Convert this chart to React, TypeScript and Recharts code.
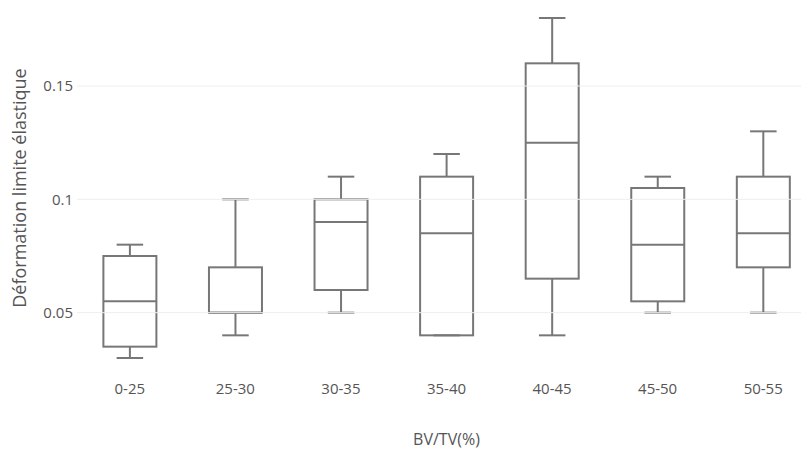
import { ComposedChart, Bar, XAxis, YAxis, ReferenceLine, Label } from 'recharts'

const categories = ['0-25', '25-30', '30-35', '35-40', '40-45', '45-50', '50-55']
const minVals = [0.03, 0.04, 0.05, 0.04, 0.04, 0.05, 0.05]
const q1Vals = [0.035, 0.05, 0.06, 0.04, 0.065, 0.055, 0.07]
const medianVals = [0.055, 0.05, 0.09, 0.085, 0.125, 0.08, 0.085]
const q3Vals = [0.075, 0.07, 0.1, 0.11, 0.16, 0.105, 0.11]
const maxVals = [0.08, 0.1, 0.11, 0.12, 0.18, 0.11, 0.13]
const yTicks = [0.05, 0.1, 0.15]

const data = categories.map((name, i) => ({
  name,
  range: [minVals[i], maxVals[i]],
  min: minVals[i],
  q1: q1Vals[i],
  median: medianVals[i],
  q3: q3Vals[i],
  max: maxVals[i],
}))

const LINE = '#777777'
const TEXT = '#555555'

// bar spans min..max, the other stats are placed on the same linear scale
const BoxShape = (props: any) => {
  const { x, y, width, height, payload } = props
  const { min, q1, median, q3, max } = payload
  const toY = (v: number) => y + (height * (max - v)) / (max - min)
  const cx = x + width / 2
  const capHalf = width / 4
  return (
    <g stroke={LINE} strokeWidth={2} fill="none">
      <line x1={cx} x2={cx} y1={toY(max)} y2={toY(q3)} />
      <line x1={cx - capHalf} x2={cx + capHalf} y1={toY(max)} y2={toY(max)} />
      <line x1={cx} x2={cx} y1={toY(q1)} y2={toY(min)} />
      <line x1={cx - capHalf} x2={cx + capHalf} y1={toY(min)} y2={toY(min)} />
      <rect x={x} y={toY(q3)} width={width} height={toY(q1) - toY(q3)} />
      <line x1={x} x2={x + width} y1={toY(median)} y2={toY(median)} />
    </g>
  )
}

export default function App() {
  return (
    <div
      style={{
        position: 'absolute',
        left: 0,
        top: 0,
        width: 801,
        height: 451,
        overflow: 'hidden',
        background: '#fff',
        fontFamily: '"Open Sans", sans-serif',
      }}
    >
      <ComposedChart
        width={816}
        height={451}
        data={data}
        margin={{ top: 1, right: 0, left: 0, bottom: 0 }}
        barCategoryGap="25%"
      >
        {yTicks.map((t) => (
          <ReferenceLine key={t} y={t} stroke="#eeeeee" strokeWidth={1} />
        ))}
        <XAxis
          dataKey="name"
          axisLine={false}
          tickLine={false}
          tickSize={0}
          tickMargin={8}
          height={76}
          tick={{ fill: TEXT, fontSize: 15 }}
        >
          <Label
            content={({ viewBox }: any) => (
              <text
                x={viewBox.x + viewBox.width / 2}
                y={viewBox.y + 64}
                textAnchor="middle"
                dominantBaseline="central"
                fill={TEXT}
                fontSize={16}
              >
                BV/TV(%)
              </text>
            )}
          />
        </XAxis>
        <YAxis
          type="number"
          domain={[0.0225, 0.1875]}
          ticks={yTicks}
          allowDataOverflow
          axisLine={false}
          tickLine={false}
          tickSize={0}
          tickMargin={4}
          width={77}
          tick={{ fill: TEXT, fontSize: 15 }}
        >
          <Label
            content={({ viewBox }: any) => {
              const lx = viewBox.x + 19
              const ly = viewBox.y + viewBox.height / 2
              return (
                <text
                  x={lx}
                  y={ly}
                  transform={`rotate(-90, ${lx}, ${ly})`}
                  textAnchor="middle"
                  dominantBaseline="central"
                  fill={TEXT}
                  fontSize={18}
                >
                  Déformation limite élastique
                </text>
              )
            }}
          />
        </YAxis>
        <Bar dataKey="range" shape={<BoxShape />} isAnimationActive={false} />
      </ComposedChart>
    </div>
  )
}
